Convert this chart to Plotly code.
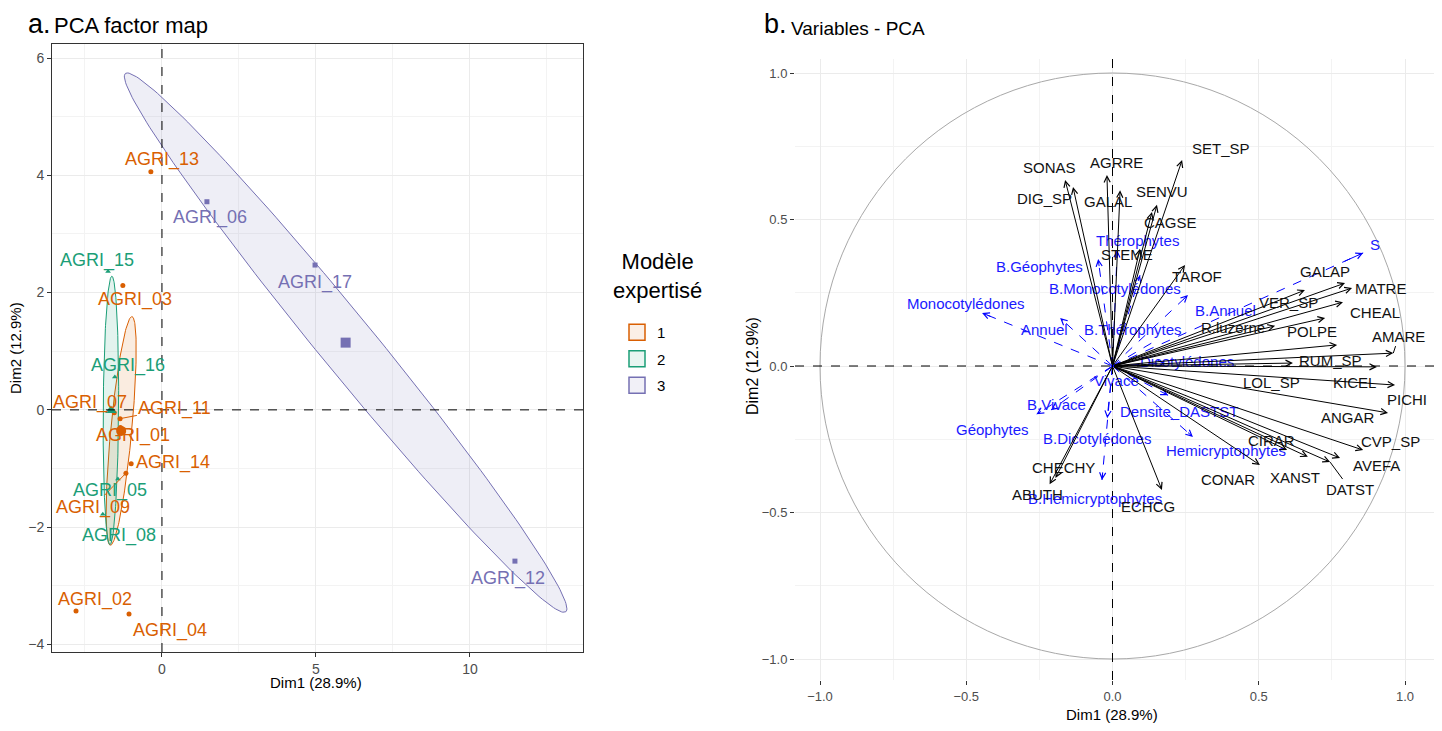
import numpy as np
import plotly.graph_objects as go

# page body has an 8px margin: the figure is sized and placed to compensate
OFF = 8
FW, FH = 1426, 715
FONT = "Arial, Liberation Sans, sans-serif"

# ---------------- Panel a : individuals ----------------
ind_names = ["AGRI_13", "AGRI_03", "AGRI_07", "AGRI_11", "AGRI_01", "AGRI_14", "AGRI_09", "AGRI_02", "AGRI_04",
             "AGRI_15", "AGRI_16", "AGRI_05", "AGRI_08",
             "AGRI_06", "AGRI_17", "AGRI_12"]
ind_dim1 = [-0.36, -1.27, -1.55, -1.36, -1.35, -1.00, -1.17, -2.79, -1.07,
            -1.75, -1.53, -1.43, -1.92,
            1.46, 4.97, 11.46]
ind_dim2 = [4.06, 2.12, -0.05, -0.15, -0.30, -0.92, -1.08, -3.43, -3.48,
            2.36, 0.56, -1.18, -1.78,
            3.55, 2.47, -2.58]
ind_group = ["1"] * 9 + ["2"] * 4 + ["3"] * 3
groups = ["1", "2", "3"]

# ---------------- Panel b : variables ----------------
sp_names = ["SONAS", "DIG_SP", "AGRRE", "GALAL", "SENVU", "CAGSE", "SET_SP", "STEME", "TAROF",
            "GALAP", "MATRE", "VER_SP", "CHEAL", "POLPE", "R.luzerne", "AMARE", "RUM_SP", "LOL_SP",
            "KICEL", "PICHI", "ANGAR", "CVP_SP", "AVEFA", "DATST", "XANST", "CIRAR", "CONAR",
            "ECHCG", "CHECHY", "ABUTH"]
sp_dim1 = [-0.162, -0.135, -0.019, 0.026, 0.152, 0.135, 0.238, 0.094, 0.248,
           0.795, 0.819, 0.658, 0.788, 0.727, 0.556, 0.960, 0.768, 0.617,
           0.904, 0.966, 0.942, 0.857, 0.778, 0.744, 0.668, 0.597, 0.504,
           0.169, -0.195, -0.215]
sp_dim2 = [0.635, 0.611, 0.652, 0.600, 0.550, 0.526, 0.703, 0.400, 0.345,
           0.283, 0.266, 0.259, 0.218, 0.164, 0.137, 0.044, 0.072, 0.010,
           -0.003, -0.065, -0.160, -0.287, -0.314, -0.328, -0.310, -0.287, -0.338,
           -0.423, -0.382, -0.404]

sup_names = ["S", "Thérophytes", "B.Géophytes", "B.Monocotylédones", "Monocotylédones", "Annuel",
             "B.Thérophytes", "B.Annuel", "Dicotylédones", "Vivace", "B.Vivace", "Géophytes",
             "B.Dicotylédones", "B.Hemicryptophytes", "Densite_DASTST", "Hemicryptophytes"]
sup_dim1 = [0.857, 0.016, -0.049, 0.094, -0.446, -0.179,
            0.152, 0.258, 0.180, -0.040, -0.210, -0.260,
            -0.018, -0.036, 0.190, 0.275]
sup_dim2 = [0.386, 0.396, 0.365, 0.310, 0.181, 0.164,
            0.089, 0.242, 0.010, -0.030, -0.150, -0.165,
            -0.178, -0.389, -0.100, -0.242]

# ---------------- styling / placement ----------------
group_color = {"1": "#D95F02", "2": "#1B9E77", "3": "#7570B3"}
group_fill = {"1": "rgba(217,95,2,0.12)", "2": "rgba(27,158,119,0.12)", "3": "rgba(117,112,179,0.12)"}
group_key = {"1": "#FBEFE6", "2": "#E8F5F1", "3": "#F1F0F7"}
group_symbol = {"1": "circle", "2": "triangle-up", "3": "square"}
# ellipse half-axis vectors (data units)
ellipse_axes = {"1": ((0.35, 1.95), (0.34, -0.015)),
                "2": ((0.03, 2.29), (0.25, 0.0)),
                "3": ((7.15, -4.59), (0.70, 0.30))}
# label positions (ggrepel placement) and whether a segment is drawn
ind_lab = {"AGRI_13": (0.0, 4.27), "AGRI_06": (1.56, 3.28), "AGRI_17": (4.97, 2.18), "AGRI_12": (11.23, -2.87),
           "AGRI_15": (-2.11, 2.54), "AGRI_03": (-0.88, 1.88), "AGRI_16": (-1.10, 0.75), "AGRI_07": (-2.34, 0.12),
           "AGRI_11": (0.42, 0.03), "AGRI_01": (-0.94, -0.44), "AGRI_14": (0.36, -0.90), "AGRI_05": (-1.69, -1.38),
           "AGRI_09": (-2.24, -1.66), "AGRI_08": (-1.40, -2.15), "AGRI_02": (-2.18, -3.23), "AGRI_04": (0.26, -3.77)}
ind_seg = {"AGRI_11", "AGRI_09"}

sp_lab = {"SONAS": (-0.214, 0.676), "DIG_SP": (-0.231, 0.570), "AGRRE": (0.015, 0.696), "GALAL": (-0.015, 0.560),
          "SENVU": (0.169, 0.594), "CAGSE": (0.197, 0.491), "SET_SP": (0.371, 0.744), "STEME": (0.050, 0.379),
          "TAROF": (0.289, 0.304), "GALAP": (0.726, 0.324), "MATRE": (0.915, 0.263), "VER_SP": (0.600, 0.218),
          "CHEAL": (0.897, 0.181), "POLPE": (0.682, 0.119), "R.luzerne": (0.412, 0.133), "AMARE": (0.979, 0.102),
          "RUM_SP": (0.744, 0.020), "LOL_SP": (0.545, -0.058), "KICEL": (0.829, -0.058), "PICHI": (1.006, -0.113),
          "ANGAR": (0.805, -0.177), "CVP_SP": (0.952, -0.259), "AVEFA": (0.904, -0.341), "DATST": (0.812, -0.420),
          "XANST": (0.624, -0.379), "CIRAR": (0.545, -0.253), "CONAR": (0.395, -0.386), "ECHCG": (0.121, -0.481),
          "CHECHY": (-0.169, -0.348), "ABUTH": (-0.255, -0.437)}
sp_seg = {"AMARE", "DATST"}
sup_lab = {"S": (0.897, 0.416), "Thérophytes": (0.085, 0.430), "B.Géophytes": (-0.248, 0.341),
           "B.Monocotylédones": (0.009, 0.263), "Monocotylédones": (-0.501, 0.215), "Annuel": (-0.231, 0.123),
           "B.Thérophytes": (0.070, 0.126), "B.Annuel": (0.385, 0.191), "Dicotylédones": (0.255, 0.014),
           "Vivace": (0.015, -0.048), "B.Vivace": (-0.190, -0.130), "Géophytes": (-0.409, -0.218),
           "B.Dicotylédones": (-0.053, -0.246), "B.Hemicryptophytes": (-0.060, -0.451),
           "Densite_DASTST": (0.227, -0.154), "Hemicryptophytes": (0.388, -0.290)}


def px(xp):
    """reference pixel x -> paper x"""
    return (xp - OFF) / FW


def py(yp):
    """reference pixel y -> paper y"""
    return 1 - (yp - OFF) / FH


fig = go.Figure()
annotations = []

d1 = np.array(ind_dim1)
d2 = np.array(ind_dim2)
g = np.array(ind_group)
t = np.linspace(0, 2 * np.pi, 200)

# ellipses
for grp in groups:
    cx, cy = d1[g == grp].mean(), d2[g == grp].mean()
    (ax_, ay_), (bx_, by_) = ellipse_axes[grp]
    ex = cx + ax_ * np.cos(t) + bx_ * np.sin(t)
    ey = cy + ay_ * np.cos(t) + by_ * np.sin(t)
    fig.add_trace(go.Scatter(x=ex, y=ey, mode="lines", fill="toself", fillcolor=group_fill[grp],
                             line=dict(color=group_color[grp], width=1), showlegend=False,
                             xaxis="x", yaxis="y", hoverinfo="skip"))

# points and centroids
for grp in groups:
    m = g == grp
    fig.add_trace(go.Scatter(x=d1[m], y=d2[m], mode="markers", showlegend=False,
                             marker=dict(color=group_color[grp], size=5, symbol=group_symbol[grp]),
                             xaxis="x", yaxis="y", text=np.array(ind_names)[m]))
    fig.add_trace(go.Scatter(x=[d1[m].mean()], y=[d2[m].mean()], mode="markers", showlegend=False,
                             marker=dict(color=group_color[grp], size=10, symbol=group_symbol[grp]),
                             xaxis="x", yaxis="y"))

# legend entries (filled key boxes)
for grp in groups:
    fig.add_trace(go.Scatter(x=[None], y=[None], mode="markers", name=grp, legendgroup=grp,
                             marker=dict(symbol="square", size=18, color=group_key[grp],
                                         line=dict(color=group_color[grp], width=1.5)),
                             xaxis="x", yaxis="y"))

for name, x, y, grp in zip(ind_names, ind_dim1, ind_dim2, ind_group):
    lx, ly = ind_lab[name]
    if name in ind_seg:
        annotations.append(dict(x=x, y=y, ax=lx, ay=ly, xref="x", yref="y", axref="x", ayref="y",
                                text=name, showarrow=True, arrowhead=0, arrowwidth=1,
                                arrowcolor=group_color[grp],
                                font=dict(family=FONT, size=18, color=group_color[grp])))
    else:
        annotations.append(dict(x=lx, y=ly, xref="x", yref="y", text=name, showarrow=False,
                                font=dict(family=FONT, size=18, color=group_color[grp])))

# ---------- panel b ----------
sx, sy = [], []
for x, y in zip(sup_dim1, sup_dim2):
    sx += [0, x, None]
    sy += [0, y, None]
fig.add_trace(go.Scatter(x=sx, y=sy, mode="lines", line=dict(color="#0000FF", width=1, dash="dash"),
                         showlegend=False, xaxis="x2", yaxis="y2", hoverinfo="skip"))
for name, x, y in zip(sup_names, sup_dim1, sup_dim2):
    annotations.append(dict(x=x, y=y, ax=0.92 * x, ay=0.92 * y, xref="x2", yref="y2", axref="x2", ayref="y2",
                            text="", showarrow=True, arrowhead=5, arrowsize=1.2, arrowwidth=1,
                            arrowcolor="#0000FF", standoff=0))
    lx, ly = sup_lab[name]
    annotations.append(dict(x=lx, y=ly, xref="x2", yref="y2", text=name, showarrow=False,
                            font=dict(family=FONT, size=15, color="#1A1AFF")))

for name, x, y in zip(sp_names, sp_dim1, sp_dim2):
    annotations.append(dict(x=x, y=y, ax=0, ay=0, xref="x2", yref="y2", axref="x2", ayref="y2",
                            text="", showarrow=True, arrowhead=5, arrowsize=1.2, arrowwidth=1,
                            arrowcolor="#000000", standoff=0))
    lx, ly = sp_lab[name]
    if name in sp_seg:
        annotations.append(dict(x=x, y=y, ax=lx, ay=ly, xref="x2", yref="y2", axref="x2", ayref="y2",
                                text=name, showarrow=True, arrowhead=0, arrowwidth=1, arrowcolor="#000000",
                                font=dict(family=FONT, size=15, color="#111111")))
    else:
        annotations.append(dict(x=lx, y=ly, xref="x2", yref="y2", text=name, showarrow=False,
                                font=dict(family=FONT, size=15, color="#111111")))

# titles, axis titles, legend title
txt = [
    ("a.", 26, 24, 27, "left", 0),
    ("PCA factor map", 52, 26, 22, "left", 0),
    ("b.", 762, 24, 27, "left", 0),
    ("Variables - PCA", 789, 28, 19, "left", 0),
    ("Dim1 (28.9%)", 316, 682, 15, "center", 0),
    ("Dim2 (12.9%)", 15, 348, 15, "center", -90),
    ("Dim1 (28.9%)", 1112, 714, 15, "center", 0),
    ("Dim2 (12.9%)", 752, 366, 16, "center", -90),
    ("Modèle<br>expertisé", 657, 276, 22, "center", 0),
]
for s, xp, yp, size, anc, ang in txt:
    annotations.append(dict(x=px(xp), y=py(yp), xref="paper", yref="paper", text=s, showarrow=False,
                            xanchor=anc, yanchor="middle", textangle=ang,
                            font=dict(family=FONT, size=size, color="#000000")))

shapes = [
    dict(type="line", xref="x", yref="y domain", x0=0, x1=0, y0=0, y1=1,
         line=dict(color="black", width=1, dash="dash")),
    dict(type="line", xref="x domain", yref="y", x0=0, x1=1, y0=0, y1=0,
         line=dict(color="black", width=1, dash="dash")),
    dict(type="circle", xref="x2", yref="y2", x0=-1, y0=-1, x1=1, y1=1,
         line=dict(color="#A8A8A8", width=1)),
    dict(type="line", xref="x2", yref="y2 domain", x0=0, x1=0, y0=0, y1=1,
         line=dict(color="black", width=1, dash="dash")),
    dict(type="line", xref="x2 domain", yref="y2", x0=0, x1=1, y0=0, y1=0,
         line=dict(color="black", width=1, dash="dash")),
]

tickfont = dict(family=FONT, size=14, color="#4D4D4D")
tickfont_b = dict(family=FONT, size=13, color="#4D4D4D")

# panel b: scale 292.5 px per unit, centre at (1112.5, 366); right edge limited by figure width
b_left, b_right, b_top, b_bot = 795, OFF + FW, 59, 680
fig.update_layout(
    width=FW, height=FH, margin=dict(l=0, r=0, t=0, b=0),
    plot_bgcolor="white", paper_bgcolor="white",
    font=dict(family=FONT),
    xaxis=dict(domain=[px(52), px(583)], range=[-3.57, 13.67], anchor="y", tick0=0, dtick=5,
               showgrid=True, gridcolor="#EBEBEB", gridwidth=1,
               minor=dict(dtick=2.5, showgrid=True, gridcolor="#F3F3F3", gridwidth=1),
               zeroline=False, showline=True, mirror=True, linecolor="#333333", linewidth=1,
               ticks="outside", ticklen=4, tickcolor="#333333", tickfont=tickfont),
    yaxis=dict(domain=[py(652), py(44)], range=[-4.13, 6.24], anchor="x", tick0=0, dtick=2,
               showgrid=True, gridcolor="#EBEBEB", gridwidth=1,
               minor=dict(dtick=1, showgrid=True, gridcolor="#F3F3F3", gridwidth=1),
               zeroline=False, showline=True, mirror=True, linecolor="#333333", linewidth=1,
               ticks="outside", ticklen=4, tickcolor="#333333", tickfont=tickfont),
    xaxis2=dict(domain=[px(b_left), px(b_right)],
                range=[(b_left - 1112.5) / 292.5, (b_right - 1112.5) / 292.5], anchor="y2", tick0=0, dtick=0.5,
                tickformat=".1f", showgrid=True, gridcolor="#EBEBEB", gridwidth=1,
                minor=dict(dtick=0.25, showgrid=True, gridcolor="#F3F3F3", gridwidth=1),
                zeroline=False, showline=False, ticks="outside", ticklen=4, tickcolor="#333333",
                tickfont=tickfont_b),
    yaxis2=dict(domain=[py(b_bot), py(b_top)],
                range=[(366 - b_bot) / 293.0, (366 - b_top) / 293.0], anchor="x2", tick0=0, dtick=0.5,
                tickformat=".1f", showgrid=True, gridcolor="#EBEBEB", gridwidth=1,
                minor=dict(dtick=0.25, showgrid=True, gridcolor="#F3F3F3", gridwidth=1),
                zeroline=False, showline=False, ticks="outside", ticklen=4, tickcolor="#333333",
                tickfont=tickfont_b),
    legend=dict(x=px(617), y=py(316), xanchor="left", yanchor="top",
                font=dict(family=FONT, size=15, color="#000000"), tracegroupgap=4,
                bgcolor="rgba(0,0,0,0)"),
    annotations=annotations,
    shapes=shapes,
)

fig.write_html("out.html")
